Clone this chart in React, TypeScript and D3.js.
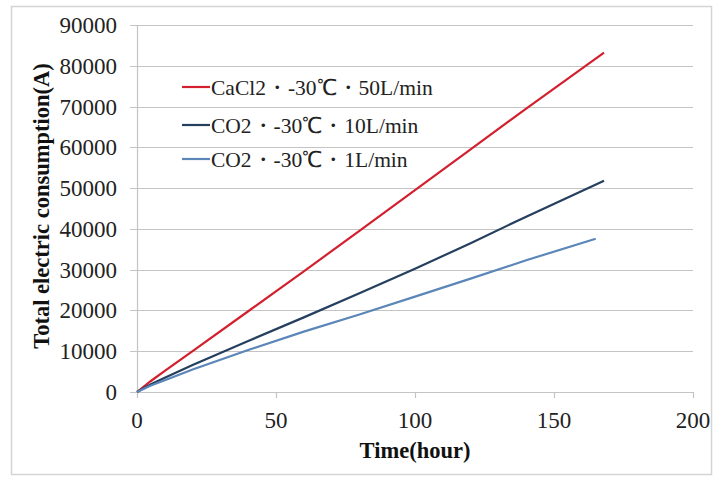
import React, { useEffect, useRef } from "react";
import * as d3 from "d3";

const W = 714;
const H = 478;

const xTicks = [0, 50, 100, 150, 200];
const yTicks = [0, 10000, 20000, 30000, 40000, 50000, 60000, 70000, 80000, 90000];

const seriesNames = ["CaCl2・-30℃・50L/min", "CO2・-30℃・10L/min", "CO2・-30℃・1L/min"];
const seriesColors = ["#d2202f", "#253f5f", "#5b86b8"];

const caclHours = [0, 5, 10, 20, 40, 60, 80, 100, 120, 140, 168];
const caclValues = [0, 2700, 5200, 10000, 19800, 29600, 39500, 49500, 59500, 69500, 83200];

const co2HighHours = [0, 5, 10, 20, 40, 60, 80, 100, 120, 140, 168];
const co2HighValues = [0, 1900, 3500, 6600, 12500, 18300, 24200, 30200, 36500, 43000, 51800];

const co2LowHours = [0, 5, 10, 20, 40, 60, 80, 100, 120, 140, 165];
const co2LowValues = [0, 1600, 2900, 5500, 10300, 14800, 19000, 23400, 27800, 32300, 37600];

const margin = { left: 137, right: 21, top: 25, bottom: 86 };

function App() {
  const svgRef = useRef<SVGSVGElement>(null);

  useEffect(() => {
    const svg = d3.select(svgRef.current);
    svg.selectAll("*").remove();
    const font = "'Liberation Serif', 'Times New Roman', serif";

    const x = d3.scaleLinear().domain([0, 200]).range([margin.left, W - margin.right]);
    const y = d3.scaleLinear().domain([0, 90000]).range([H - margin.bottom, margin.top]);

    svg.append("rect").attr("width", W).attr("height", H).attr("fill", "#fff");
    svg
      .append("rect")
      .attr("x", 11.5)
      .attr("y", 6.5)
      .attr("width", W - 14)
      .attr("height", H - 10)
      .attr("fill", "none")
      .attr("stroke", "#d4d4d4")
      .attr("stroke-width", 1.5);

    // grid lines
    svg
      .append("g")
      .selectAll("line")
      .data(yTicks.slice(1))
      .join("line")
      .attr("x1", x(0) - 7)
      .attr("x2", x(200))
      .attr("y1", (d) => Math.round(y(d)) + 0.5)
      .attr("y2", (d) => Math.round(y(d)) + 0.5)
      .attr("stroke", "#c4c4c4")
      .attr("stroke-width", 1.2);

    // axes
    svg
      .append("line")
      .attr("x1", x(0) + 0.5)
      .attr("x2", x(0) + 0.5)
      .attr("y1", y(90000))
      .attr("y2", y(0))
      .attr("stroke", "#c4c4c4")
      .attr("stroke-width", 1.2);
    svg
      .append("line")
      .attr("x1", x(0) - 7)
      .attr("x2", x(200))
      .attr("y1", Math.round(y(0)) + 0.5)
      .attr("y2", Math.round(y(0)) + 0.5)
      .attr("stroke", "#c4c4c4")
      .attr("stroke-width", 1.2);
    svg
      .append("g")
      .selectAll("line")
      .data(xTicks)
      .join("line")
      .attr("x1", (d) => Math.round(x(d)) + 0.5)
      .attr("x2", (d) => Math.round(x(d)) + 0.5)
      .attr("y1", y(0))
      .attr("y2", y(0) + 6)
      .attr("stroke", "#c4c4c4")
      .attr("stroke-width", 1.2);

    // tick labels
    svg
      .append("g")
      .selectAll("text")
      .data(yTicks)
      .join("text")
      .attr("x", 117)
      .attr("y", (d) => y(d) + 8)
      .attr("text-anchor", "end")
      .attr("font-family", font)
      .attr("font-size", 23)
      .attr("fill", "#222")
      .text((d) => d);
    svg
      .append("g")
      .selectAll("text")
      .data(xTicks)
      .join("text")
      .attr("x", (d) => x(d))
      .attr("y", 428)
      .attr("text-anchor", "middle")
      .attr("font-family", font)
      .attr("font-size", 23)
      .attr("fill", "#222")
      .text((d) => d);

    // axis titles
    svg
      .append("text")
      .attr("x", x(100))
      .attr("y", 458)
      .attr("text-anchor", "middle")
      .attr("font-family", font)
      .attr("font-weight", "bold")
      .attr("font-size", 22.5)
      .attr("fill", "#111")
      .text("Time(hour)");
    svg
      .append("text")
      .attr("transform", "translate(49,206) rotate(-90)")
      .attr("text-anchor", "middle")
      .attr("font-family", font)
      .attr("font-weight", "bold")
      .attr("font-size", 22.5)
      .attr("fill", "#111")
      .text("Total electric consumption(A)");

    // series
    const series = [
      { hours: caclHours, values: caclValues },
      { hours: co2HighHours, values: co2HighValues },
      { hours: co2LowHours, values: co2LowValues },
    ];
    series.forEach((s, k) => {
      const pts: [number, number][] = s.hours.map((h, i) => [x(h), y(s.values[i])]);
      svg
        .append("path")
        .attr("d", d3.line()(pts))
        .attr("fill", "none")
        .attr("stroke", seriesColors[k])
        .attr("stroke-width", 2.2);
    });

    // legend
    const legendY = [87, 125, 159];
    const lg = svg.append("g");
    seriesNames.forEach((name, k) => {
      lg.append("line")
        .attr("x1", 182)
        .attr("x2", 210)
        .attr("y1", legendY[k])
        .attr("y2", legendY[k])
        .attr("stroke", seriesColors[k])
        .attr("stroke-width", 2.2);
      lg.append("text")
        .attr("x", 211)
        .attr("y", legendY[k] + 8)
        .attr("font-family", font)
        .attr("font-size", 21.5)
        .attr("fill", "#222")
        .text(name);
    });
  }, []);

  return (
    <div>
      <svg
        ref={svgRef}
        width={W}
        height={H}
        style={{ position: "absolute", left: 0, top: 0 }}
      ></svg>
    </div>
  );
}

export default App;
